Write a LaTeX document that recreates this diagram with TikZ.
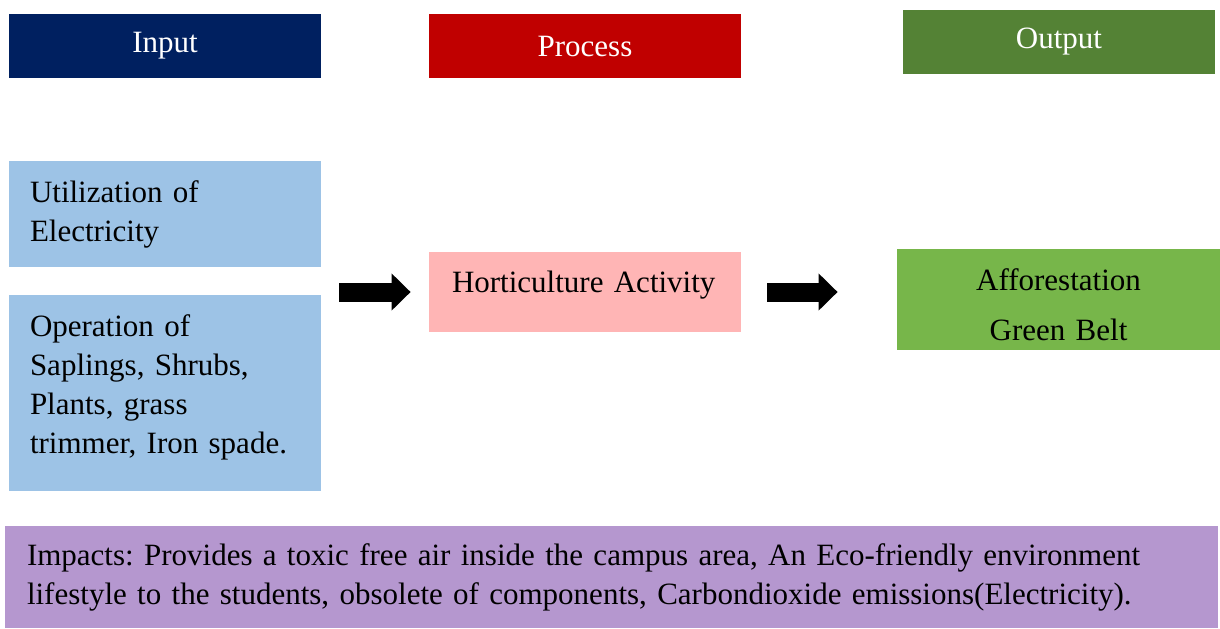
\documentclass[tikz,border=0pt]{standalone}
\usepackage{fontspec}
\setmainfont{Liberation Serif}
\usetikzlibrary{arrows.meta,positioning}

\definecolor{inhead}{HTML}{002060}
\definecolor{prochead}{HTML}{C00000}
\definecolor{outhead}{HTML}{548235}
\definecolor{inbox}{HTML}{9DC3E6}
\definecolor{procbox}{HTML}{FFB5B5}
\definecolor{outbox}{HTML}{77B64A}
\definecolor{impbox}{HTML}{B597CF}

\begin{document}
\frenchspacing
\begin{tikzpicture}[x=0.5pt,y=-0.5pt,
  font=\fontsize{15.5}{19.5}\selectfont,
  head box/.style={rectangle,minimum width=156pt,minimum height=32pt,inner sep=0pt,text=white,align=center},
  main box/.style={rectangle,inner xsep=10.5pt,inner ysep=0pt,text width=135pt,align=left},
  flow arrow/.style={line width=9.5pt,-{Triangle[length=9.5pt,width=18pt]}}]
  \useasboundingbox (0,0) rectangle (1220,628);

  \node[head box, fill=inhead] (1) at (165,46) {Input};
  \node[head box, fill=prochead] (2) at (585,46) {Process};
  \node[head box, fill=outhead] (3) at (1059,42) {Output};

  \node[main box, fill=inbox, minimum height=53pt] (4) at (165,214) {Utilization of\\ Electricity};
  \node[main box, fill=inbox, minimum height=98pt] (5) at (165,393) {Operation of\\ Saplings, Shrubs,\\ Plants, grass\\ trimmer, Iron spade.\\[-11pt]\mbox{}};
  \node[main box, fill=procbox, minimum height=40pt, inner xsep=11.5pt, text width=133pt, text height=10pt, text depth=10pt] (6) at (585,292) {Horticulture Activity};
  \node[main box, fill=outbox, minimum height=50.5pt, inner xsep=0pt, text width=161.5pt, align=center] (7) at (1058.5,299.5) {\rule{0pt}{16.5pt}Afforestation\\[5.5pt] Green Belt};
  \node[main box, fill=impbox, minimum height=51pt, inner xsep=11pt, text width=584.5pt] (8) at (611.5,577) {Impacts: Provides a toxic free air inside the campus area, An Eco-friendly environment\\ lifestyle to the students, obsolete of components, Carbondioxide emissions(Electricity).};

  \path
(6.west -| 4.east) edge [flow arrow, shorten <=9pt, shorten >=9pt] (6.west)
(6.east) edge [flow arrow, shorten <=13pt, shorten >=29.5pt] (6.east -| 7.west)
 ;
\end{tikzpicture}
\end{document}
